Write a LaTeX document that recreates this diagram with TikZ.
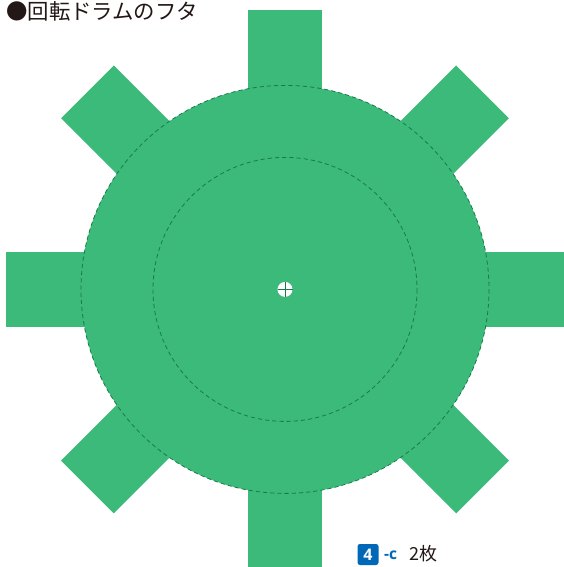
\documentclass[tikz,border=0pt]{standalone}
\usepackage{fontspec}
\newfontfamily\cjk{Noto Sans CJK JP}
\setsansfont{Open Sans}
\definecolor{drumgreen}{HTML}{3BBA7A}
\definecolor{darkline}{HTML}{1A7A4C}
\definecolor{tagblue}{HTML}{0068B7}
\definecolor{inktext}{HTML}{231815}
\tikzset{
  tabshape/.style={fill=drumgreen,draw=none},
  foldline/.style={draw=darkline,line width=0.8pt,dash pattern=on 4.2pt off 3pt},
  label/.style={inner sep=0pt,text=inktext}
}
\begin{document}
\begin{tikzpicture}[x=1pt,y=-1pt]
\useasboundingbox (0,0) rectangle (563,567);
\coordinate (c) at (285,289.4);
% tabs
\foreach \a in {0,45,...,315}{
  \fill[tabshape,rotate around={\a:(c)}] (285-37.3,289.4-279.4) rectangle (285+37.3,289.4);
}
\fill[tabshape] (c) circle[radius=204];
\draw[foldline] (c) circle[radius=204];
\draw[foldline] (c) circle[radius=132];
% centre hole
\fill[white] (c) circle[radius=7.5];
\draw[darkline,line width=0.9pt] (277.5,289.4) -- (292.5,289.4) (285,281.9) -- (285,296.9);
% title
\node[label,anchor=west,font=\cjk\fontsize{21.4}{24}\selectfont] (title) at (6,11) {●回転ドラムのフタ};
% tag
\node[fill=tagblue,rounded corners=2.5pt,text=white,font=\sffamily\bfseries\fontsize{16}{16}\selectfont,minimum width=21pt,minimum height=21pt,inner sep=0pt] (tag) at (368,554.5) {4};
\node[anchor=west,inner sep=0pt,text=tagblue,font=\sffamily\bfseries\fontsize{15.5}{15.5}\selectfont] (sub) at (384,555) {-c};
\node[label,anchor=west,font=\cjk\fontsize{18}{18}\selectfont] (count) at (409.5,553.5) {2枚};
\end{tikzpicture}
\end{document}
